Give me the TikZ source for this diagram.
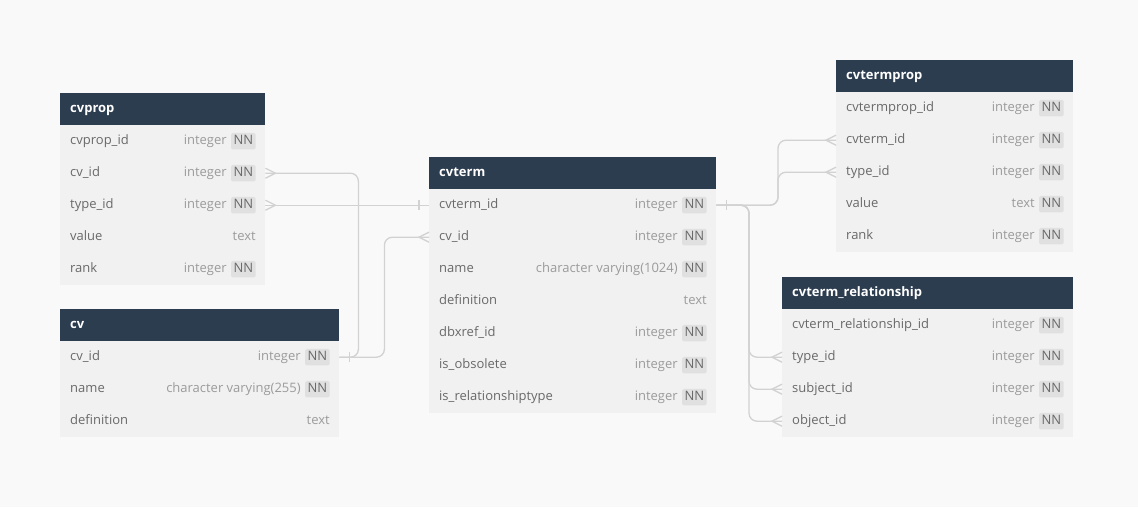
\documentclass[tikz,border=0pt]{standalone}
\usepackage{fontspec}
\setmainfont{Open Sans}
\usepackage{tikz}

\definecolor{bgcol}{RGB}{249,249,249}
\definecolor{hdrcol}{RGB}{45,61,80}
\definecolor{rowcol}{RGB}{241,241,241}
\definecolor{nncol}{RGB}{224,224,224}
\definecolor{fldcol}{RGB}{105,105,105}
\definecolor{typcol}{RGB}{155,155,155}
\definecolor{linecol}{RGB}{210,210,210}

\begin{document}
\begin{tikzpicture}[x=1pt, y=-1pt, font=\fontsize{13}{15}\selectfont,
	hdr/.style={anchor=north west, fill=hdrcol, text=white, font=\fontsize{13}{15}\selectfont\bfseries, minimum height=32pt, inner xsep=10pt, inner ysep=0pt, text width=#1, align=left, text height=9.5pt, text depth=3pt},
	rowbox/.style={anchor=north west, fill=rowcol, minimum height=32pt, minimum width=#1, inner sep=0pt},
	fld/.style={anchor=west, text=fldcol, inner sep=0pt, text height=9.5pt, text depth=3pt},
	typ/.style={anchor=east, text=typcol, inner sep=0pt, text height=9.5pt, text depth=3pt},
	nn/.style={anchor=east, fill=nncol, text=fldcol, inner xsep=2.5pt, inner ysep=2pt, text height=9.5pt, text depth=3pt, rounded corners=1.5pt},
	conn/.style={draw=linecol, line width=1.3pt}]
	\useasboundingbox (0,0) rectangle (1138,507);
	\fill[bgcol] (0,0) rectangle (1138,507);
	
	% cvprop
	\node[hdr=185pt] (cvprop) at (60,93) {cvprop};
	\foreach \f/\t/\n [count=\i] in {cvprop\_id/integer/1, cv\_id/integer/1, type\_id/integer/1, value/text/0, rank/integer/1}{
		\node[rowbox=205pt] (cvprop-\i) at (60,{93+32*\i}) {};
		\node[fld] (cvprop-\i-f) at ([xshift=10pt]cvprop-\i.west) {\f};
		\ifnum\n=1
		\node[nn] (cvprop-\i-nn) at ([xshift=-9.5pt]cvprop-\i.east) {NN};
		\node[typ] (cvprop-\i-t) at ([xshift=-4pt]cvprop-\i-nn.west) {\t};
		\else
		\node[typ] (cvprop-\i-t) at ([xshift=-9.5pt]cvprop-\i.east) {\t};
		\fi
	}
	
	% cv
	\node[hdr=259pt] (cv) at (60,309) {cv};
	\foreach \f/\t/\n [count=\i] in {cv\_id/integer/1, name/character varying(255)/1, definition/text/0}{
		\node[rowbox=279pt] (cv-\i) at (60,{309+32*\i}) {};
		\node[fld] (cv-\i-f) at ([xshift=10pt]cv-\i.west) {\f};
		\ifnum\n=1
		\node[nn] (cv-\i-nn) at ([xshift=-9.5pt]cv-\i.east) {NN};
		\node[typ] (cv-\i-t) at ([xshift=-4pt]cv-\i-nn.west) {\t};
		\else
		\node[typ] (cv-\i-t) at ([xshift=-9.5pt]cv-\i.east) {\t};
		\fi
	}
	
	% cvterm
	\node[hdr=267pt] (cvterm) at (429,157) {cvterm};
	\foreach \f/\t/\n [count=\i] in {cvterm\_id/integer/1, cv\_id/integer/1, name/character varying(1024)/1, definition/text/0, dbxref\_id/integer/1, is\_obsolete/integer/1, is\_relationshiptype/integer/1}{
		\node[rowbox=287pt] (cvterm-\i) at (429,{157+32*\i}) {};
		\node[fld] (cvterm-\i-f) at ([xshift=10pt]cvterm-\i.west) {\f};
		\ifnum\n=1
		\node[nn] (cvterm-\i-nn) at ([xshift=-9.5pt]cvterm-\i.east) {NN};
		\node[typ] (cvterm-\i-t) at ([xshift=-4pt]cvterm-\i-nn.west) {\t};
		\else
		\node[typ] (cvterm-\i-t) at ([xshift=-9.5pt]cvterm-\i.east) {\t};
		\fi
	}
	
	% cvtermprop
	\node[hdr=217pt] (cvtermprop) at (836,60) {cvtermprop};
	\foreach \f/\t/\n [count=\i] in {cvtermprop\_id/integer/1, cvterm\_id/integer/1, type\_id/integer/1, value/text/1, rank/integer/1}{
		\node[rowbox=237pt] (cvtermprop-\i) at (836,{60+32*\i}) {};
		\node[fld] (cvtermprop-\i-f) at ([xshift=10pt]cvtermprop-\i.west) {\f};
		\ifnum\n=1
		\node[nn] (cvtermprop-\i-nn) at ([xshift=-9.5pt]cvtermprop-\i.east) {NN};
		\node[typ] (cvtermprop-\i-t) at ([xshift=-4pt]cvtermprop-\i-nn.west) {\t};
		\else
		\node[typ] (cvtermprop-\i-t) at ([xshift=-9.5pt]cvtermprop-\i.east) {\t};
		\fi
	}
	
	% cvterm_relationship
	\node[hdr=271pt] (cvrel) at (782,277) {cvterm\_relationship};
	\foreach \f/\t/\n [count=\i] in {cvterm\_relationship\_id/integer/1, type\_id/integer/1, subject\_id/integer/1, object\_id/integer/1}{
		\node[rowbox=291pt] (cvrel-\i) at (782,{277+32*\i}) {};
		\node[fld] (cvrel-\i-f) at ([xshift=10pt]cvrel-\i.west) {\f};
		\ifnum\n=1
		\node[nn] (cvrel-\i-nn) at ([xshift=-9.5pt]cvrel-\i.east) {NN};
		\node[typ] (cvrel-\i-t) at ([xshift=-4pt]cvrel-\i-nn.west) {\t};
		\else
		\node[typ] (cvrel-\i-t) at ([xshift=-9.5pt]cvrel-\i.east) {\t};
		\fi
	}
	
	% relations
	\draw[conn, rounded corners=8pt] (cvprop-2.east) -| ([xshift=19pt]cv-1.east) -- (cv-1.east);
	\draw[conn, rounded corners=8pt] (cvterm-2.west) -| ([xshift=45pt]cv-1.east) -- (cv-1.east);
	\draw[conn] (cvprop-3.east) -- (cvterm-1.west);
	\draw[conn, rounded corners=8pt] (cvterm-1.east) -| ([xshift=-58pt]cvtermprop-2.west) -- (cvtermprop-2.west);
	\draw[conn, rounded corners=8pt] (cvterm-1.east) -| ([xshift=-58pt]cvtermprop-3.west) -- (cvtermprop-3.west);
	\foreach \j in {2,3,4}
		\draw[conn, rounded corners=8pt] (cvterm-1.east) -| ([xshift=-33pt]cvrel-\j.west) -- (cvrel-\j.west);
	
	% many ends
	\foreach \a/\s in {cvprop-2.east/10, cvprop-3.east/10, cvterm-2.west/-10, cvtermprop-2.west/-10, cvtermprop-3.west/-10, cvrel-2.west/-10, cvrel-3.west/-10, cvrel-4.west/-10}
		\draw[conn] ([yshift=5pt]\a) -- ([xshift=\s pt]\a) -- ([yshift=-5pt]\a);
	% one ends
	\foreach \a/\s in {cv-1.east/10, cvterm-1.west/-10, cvterm-1.east/10}
		\draw[conn] ([xshift=\s pt, yshift=5pt]\a) -- ([xshift=\s pt, yshift=-5pt]\a);
\end{tikzpicture}
\end{document}
